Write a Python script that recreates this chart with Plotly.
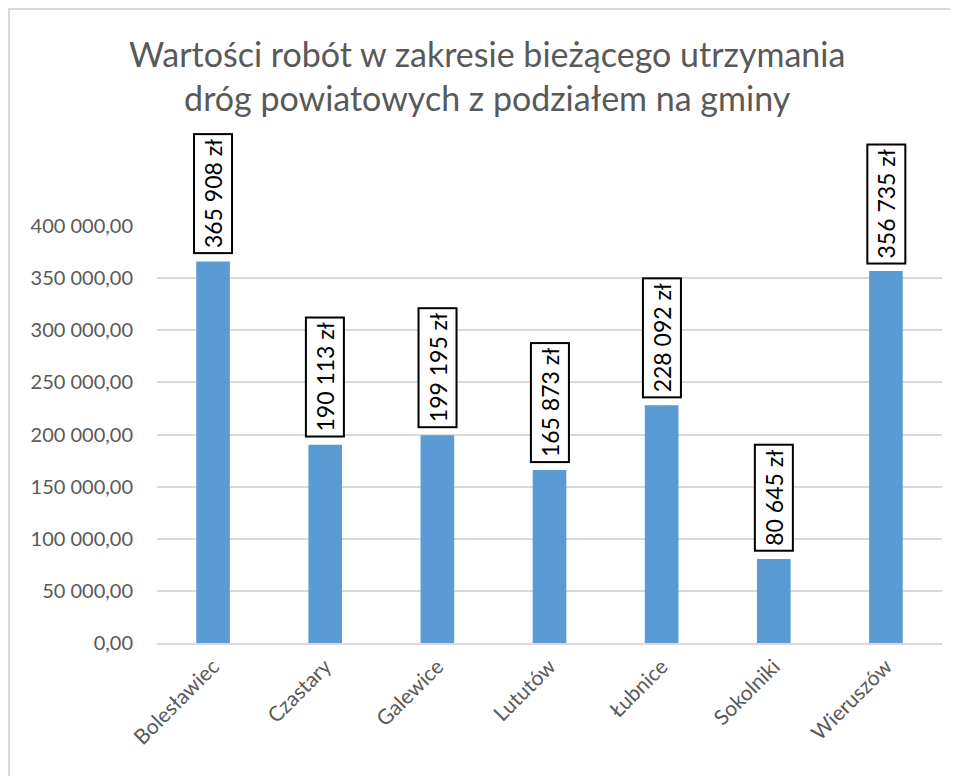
import plotly.graph_objects as go

categories = ["Bolesławiec", "Czastary", "Galewice", "Lututów", "Łubnice", "Sokolniki", "Wieruszów"]
values = [365908, 190113, 199195, 165873, 228092, 80645, 356735]
y_ticks = [0, 50000, 100000, 150000, 200000, 250000, 300000, 350000, 400000]
title_text = "Wartości robót w zakresie bieżącego utrzymania<br>dróg powiatowych z podziałem na gminy"

# page has an 8px body margin; figure coordinates = page - 8
W, H = 950, 768
L, R, T, B = 149, 934, 218, 635

FONT = "Lato"
GRAY = "#595959"

def fmt(v):
    return f"{v:,}".replace(",", " ") + " zł"

def px_x(p):
    return (p - L) / (R - L)

def px_y(p):
    return (B - p) / (B - T)

fig = go.Figure()
fig.add_trace(go.Bar(
    x=categories, y=values,
    marker=dict(color="#5B9BD5", line=dict(width=0)),
    width=0.30,
    hoverinfo="skip",
))

for c, v in zip(categories, values):
    fig.add_annotation(
        x=c, y=v, xref="x", yref="y",
        text=fmt(v), showarrow=False, textangle=-90,
        font=dict(family=FONT, size=23, color="#000000"),
        bgcolor="white", bordercolor="#000000", borderwidth=2, borderpad=4,
        xanchor="center", yanchor="bottom", yshift=7,
    )

fig.add_annotation(
    xref="paper", yref="paper", x=px_x(479), y=px_y(67),
    text=title_text, showarrow=False,
    xanchor="center", yanchor="middle",
    font=dict(family=FONT, size=34, color=GRAY),
)

fig.add_shape(type="rect", xref="paper", yref="paper",
              x0=px_x(0.5), x1=px_x(1100), y0=px_y(1100), y1=px_y(0.5),
              line=dict(color="#D9D9D9", width=3), fillcolor="rgba(0,0,0,0)", layer="below")

fig.update_layout(
    width=W, height=H,
    margin=dict(l=L, r=W - R, t=T, b=H - B, pad=0),
    paper_bgcolor="white", plot_bgcolor="white",
    separators=", ",
    showlegend=False,
    font=dict(family=FONT, color=GRAY),
    bargap=0.7,
)

fig.update_xaxes(
    tickangle=-45, tickfont=dict(family=FONT, size=21, color=GRAY),
    showgrid=False, showline=True, linecolor="#D9D9D9", linewidth=2,
    ticks="outside", ticklen=1, tickcolor="rgba(0,0,0,0)", fixedrange=True,
)
fig.update_yaxes(
    range=[0, 400000], tickvals=y_ticks, tickformat=",.2f",
    tickfont=dict(family=FONT, size=20, color=GRAY),
    showgrid=True, gridcolor="#D9D9D9", gridwidth=1.5,
    zeroline=False, showline=False,
    ticks="outside", ticklen=19, tickcolor="rgba(0,0,0,0)",
    fixedrange=True,
)

fig.write_html("out.html")
